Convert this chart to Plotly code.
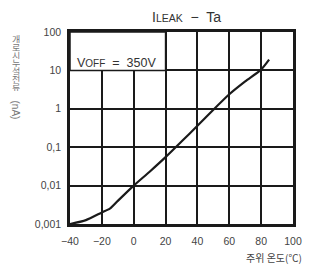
import plotly.graph_objects as go

# Data
temp_c = [-40, -30, -20, -15, -10, 0, 10, 20, 30, 40, 50, 60, 70, 80, 85]
leak_na = [0.001, 0.00126, 0.002, 0.0025, 0.004, 0.01, 0.023, 0.055, 0.14, 0.36, 0.95, 2.4, 5.2, 10.5, 19]
x_ticks = [-40, -20, 0, 20, 40, 60, 80, 100]
x_tick_labels = ["−40", "−20", "0", "20", "40", "60", "80", "100"]
y_ticks = [0.001, 0.01, 0.1, 1, 10, 100]
y_tick_labels = ["0,001", "0,01", "0,1", "1", "10", "100"]
y_label_chars = ["개", "로", "시", "누", "설", "전", "류"]

W, H = 314, 269
L, R, T, B = 70, 295, 32, 224

def px(x):
    return (x - L) / (R - L)

def py(y):
    return (B - y) / (B - T)

FONT = "Liberation Sans, Arial, sans-serif"
KFONT = "Noto Sans CJK KR, sans-serif"
GRAY = "#444444"

fig = go.Figure()
fig.add_trace(go.Scatter(x=temp_c, y=leak_na, mode="lines",
                         line=dict(color="#1a1a1a", width=2.2, shape="spline", smoothing=0.6),
                         showlegend=False, hoverinfo="skip"))

fig.update_layout(
    width=W, height=H,
    margin=dict(l=L, r=W - R, t=T, b=H - B),
    paper_bgcolor="white", plot_bgcolor="white",
    xaxis=dict(range=[-40, 100], tickvals=x_ticks, ticktext=x_tick_labels,
               showgrid=True, gridcolor="#1a1a1a", gridwidth=1.5,
               showline=True, linecolor="#1a1a1a", linewidth=2.5, mirror=True,
               ticks="", ticklabelstandoff=6, zeroline=False,
               tickfont=dict(family=FONT, size=10.5, color=GRAY)),
    yaxis=dict(type="log", range=[-3, 2], tickvals=y_ticks, ticktext=y_tick_labels,
               showgrid=True, gridcolor="#1a1a1a", gridwidth=1.5,
               showline=True, linecolor="#1a1a1a", linewidth=2.5, mirror=True,
               ticks="", ticklabelstandoff=4, zeroline=False,
               tickfont=dict(family=FONT, size=10.5, color=GRAY)),
    showlegend=False,
)

# V_OFF box in the top-left decade
fig.add_shape(type="rect", xref="x", yref="y", x0=-40, x1=20, y0=10, y1=100,
              fillcolor="white", line=dict(color="#1a1a1a", width=1.5), layer="above")
fig.add_annotation(xref="x", yref="paper", x=-37, y=py(63), xanchor="left", yanchor="middle",
                   text="V<span style='font-size:10px'>OFF</span>  =  350V", showarrow=False,
                   font=dict(family=FONT, size=12.5, color="#333333"))

# Title
fig.add_annotation(xref="paper", yref="paper", x=px(188), y=py(17),
                   xanchor="center", yanchor="middle",
                   text="I<span style='font-size:10.5px'>LEAK</span>  −  Ta", showarrow=False,
                   font=dict(family=FONT, size=14, color="#333333"))

# X axis title
fig.add_annotation(xref="paper", yref="paper", x=px(276), y=py(257),
                   xanchor="center", yanchor="middle",
                   text="주위 온도(℃)", showarrow=False,
                   font=dict(family=KFONT, size=10, color=GRAY))

# Vertical Y axis title (upright Korean characters stacked)
ys = [39, 47, 55, 63, 71, 79, 87]
for ch, yy in zip(y_label_chars, ys):
    fig.add_annotation(xref="paper", yref="paper", x=px(16), y=py(yy),
                       xanchor="center", yanchor="middle", height=8, borderpad=0,
                       text=ch, showarrow=False,
                       font=dict(family=KFONT, size=9, color="#777777"))
fig.add_annotation(xref="paper", yref="paper", x=px(16), y=py(110),
                   xanchor="center", yanchor="middle", borderpad=0,
                   text="(nA)", textangle=90, showarrow=False,
                   font=dict(family=FONT, size=10, color="#777777"))

fig.write_html("out.html", config={"displayModeBar": False},
               post_script="document.body.style.margin='0';")
